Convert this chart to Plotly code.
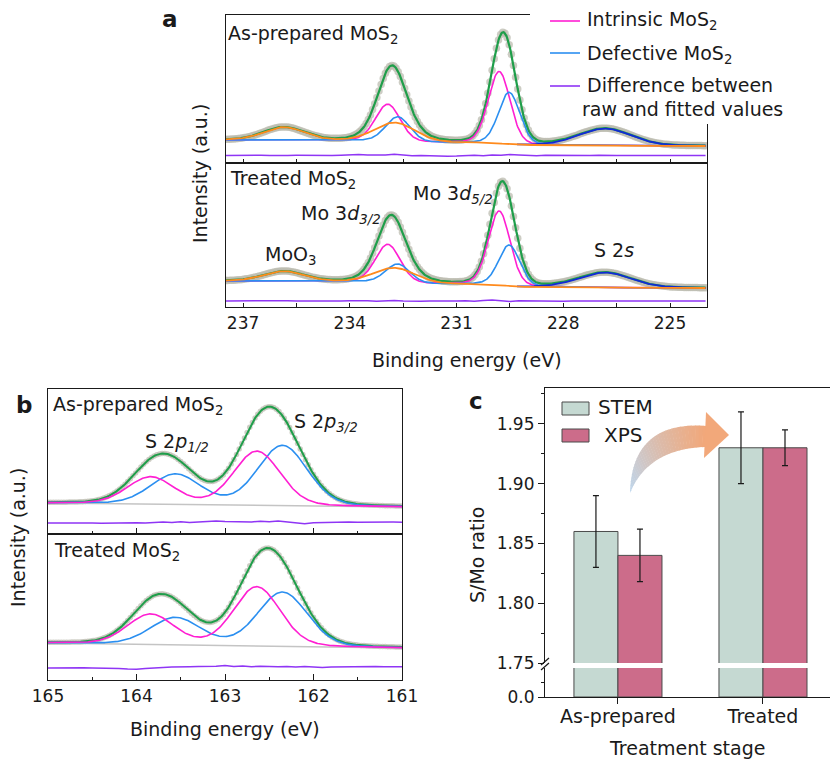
import numpy as np
import plotly.graph_objects as go

W, H = 830, 759
FONT = "DejaVu Sans"
INK = "#1a1a1a"

# colours
C_DOTS = "rgba(188,188,176,0.75)"
C_FIT = "#1f9e4a"
C_INTR = "#ff1fd2"
C_DEF = "#2b8ff0"
C_S2S = "#1229d6"
C_MOO3 = "#ff8a1c"
C_DIFF = "#8f35f5"
C_BG = "#c4c4c4"
C_STEM = "#c5d9d2"
C_XPS = "#cc6c8a"

# ---------------- Mo 3d region (panel a) ----------------
MO3D_RANGE = [237.5, 224.0]            # binding energy, eV (high -> low)
INTR_CENTER = [229.80, 232.93]         # intrinsic MoS2 3d5/2, 3d3/2
DEF_CENTER = [229.52, 232.65]          # defective MoS2 3d5/2, 3d3/2
MOO3_CENTER = [232.72, 235.85]         # MoO3 3d5/2, 3d3/2
S2S_CENTER = [226.82]
S2S_WINDOW = [229.3, 224.0]            # energy span over which S 2s is traced
INTR_FWHM = [0.72, 0.82]
DEF_FWHM = [0.70, 0.80]
MOO3_FWHM = [1.35, 1.35]
S2S_FWHM = [1.75]

AP_INTR_H = [72, 37]
AP_DEF_H = [52, 25]
AP_MOO3_H = [19, 13]
AP_S2S_H = [17]
AP_MO3D_BG = [23, 17]                  # background at high / low BE end
AP_MO3D_DIFF_LEVEL = 7.5
AP_MO3D_DIFF = [0.0, 0.2, -0.1, 0.1, 0.3, 0.0, -0.2, 0.1, 0.2, 0.0, -0.1,
                0.1, 0.0, 0.3, 0.7, 0.9, 0.5, 0.2, 0.6, 1.2, 0.4, -0.2,
                0.1, -0.3, -0.5, -0.8, -0.6, -0.1, 0.2, -0.3, 0.4, 0.2, 0.9,
                0.6, 0.1, -0.2, 0.2, 0.0, -0.1, 0.3, 0.1, -0.1, 0.2, 0.4,
                0.1, -0.1, 0.2, 0.0, 0.1, -0.1, 0.2, 0.0, -0.1, 0.1, 0.0]

TR_INTR_H = [74, 38]
TR_DEF_H = [41, 19]
TR_MOO3_H = [15, 10]
TR_S2S_H = [15]
TR_MO3D_BG = [26, 19]
TR_MO3D_DIFF_LEVEL = 6.0
TR_MO3D_DIFF = [0.0, 0.1, -0.1, 0.2, 0.0, -0.2, 0.1, 0.3, 0.0, -0.1, 0.2,
                0.1, -0.2, 0.0, 0.3, 0.5, 0.2, -0.3, 0.4, 0.6, 0.1, -0.4,
                -0.2, 0.1, -0.1, -0.3, 0.0, 0.2, -0.2, 0.5, 0.9, 0.3, -0.4,
                0.2, 0.0, -0.1, 0.2, 0.1, -0.2, 0.0, 0.3, 0.1, -0.1, 0.2,
                0.0, 0.1, -0.1, 0.0, 0.2, 0.1, -0.1, 0.0, 0.1, 0.0, 0.1]

# ---------------- S 2p region (panel b) ----------------
S2P_RANGE = [165.0, 161.0]
S2P_INTR_CENTER = [162.64, 163.84]     # 2p3/2, 2p1/2
S2P_DEF_CENTER = [162.35, 163.56]
S2P_INTR_FWHM = [0.62, 0.62]
S2P_DEF_FWHM = [0.66, 0.66]

AP_S2P_INTR_H = [54, 27]
AP_S2P_DEF_H = [60, 30]
AP_S2P_BG = [31, 27]
AP_S2P_DIFF_LEVEL = 11.0
AP_S2P_DIFF = [0.0, 0.1, -0.1, 0.0, 0.2, 0.1, -0.2, 0.0, -0.3, -0.1, 0.2,
               0.0, 0.6, 0.9, 0.4, 1.2, 0.6, 1.0, 1.6, 1.9, 1.4, 1.2,
               1.7, 1.0, 1.8, 1.3, 2.1, 0.9, 0.4, -0.8, 0.3, 0.6, 0.2,
               0.8, 0.9, 0.7, 0.9, 0.8, 0.7, 0.9, 0.8]

TR_S2P_INTR_H = [59, 30]
TR_S2P_DEF_H = [54, 27]
TR_S2P_BG = [37, 32]
TR_S2P_DIFF_LEVEL = 12.0
TR_S2P_DIFF = [0.0, 0.2, 0.1, 0.3, 0.2, 0.0, 0.1, -0.2, -0.4, -0.9, -1.2,
               -0.5, 0.3, 0.6, 0.9, 0.8, 1.2, 1.4, 1.3, 1.8, 2.6, 1.6,
               1.9, 1.3, 1.7, 1.4, 1.2, 1.6, 1.0, 1.5, 0.6, 0.4, 0.9,
               1.1, 1.0, 1.3, 1.2, 1.4, 1.3, 1.2, 1.3]

# ---------------- S/Mo ratio (panel c) ----------------
STAGES = ["As-prepared", "Treated"]
STEM_RATIO = [1.86, 1.93]
STEM_ERR = [0.03, 0.03]
XPS_RATIO = [1.84, 1.93]
XPS_ERR = [0.022, 0.015]


# ---------------- helpers ----------------
def fx(x):
    return x / W


def fy(y):
    return 1 - y / H


def band(top, bottom):
    return [1 - bottom / H, 1 - top / H]


def pseudo_voigt(E, c, h, w, eta=0.15):
    u = (E - c) / w
    g = np.exp(-4 * np.log(2) * u ** 2)
    lor = 1.0 / (1.0 + 4 * u ** 2)
    return h * ((1 - eta) * g + eta * lor)


def peaks(E, centers, heights, widths):
    out = np.zeros_like(E)
    for c, h, w in zip(centers, heights, widths):
        out += pseudo_voigt(E, c, h, w)
    return out


def shirley(signal, bg):
    # E runs from high to low binding energy; step grows toward high BE
    cum = np.cumsum(signal[::-1])[::-1]
    return bg[1] + (bg[0] - bg[1]) * cum / cum[0]


def line(x, y, color, xa, ya, width=1.6):
    return go.Scatter(x=x, y=y, mode="lines", line=dict(color=color, width=width),
                      xaxis=xa, yaxis=ya, hoverinfo="skip")


def mo3d_traces(xa, ya, intr_h, def_h, moo3_h, s2s_h, bg, diff, diff_level):
    E = np.linspace(MO3D_RANGE[0], MO3D_RANGE[1], 676)
    intr = peaks(E, INTR_CENTER, intr_h, INTR_FWHM)
    defe = peaks(E, DEF_CENTER, def_h, DEF_FWHM)
    moo3 = peaks(E, MOO3_CENTER, moo3_h, MOO3_FWHM)
    s2s = peaks(E, S2S_CENTER, s2s_h, S2S_FWHM)
    signal = intr + defe + moo3 + s2s
    base = shirley(signal, bg)
    fit = base + signal
    win = (E <= S2S_WINDOW[0]) & (E >= S2S_WINDOW[1])
    Ed = np.linspace(MO3D_RANGE[0], MO3D_RANGE[1], len(diff))
    return [
        go.Scatter(x=E[::3], y=fit[::3], mode="markers",
                   marker=dict(size=7.5, color=C_DOTS), xaxis=xa, yaxis=ya),
        line(E, fit, C_FIT, xa, ya, 2.2),
        line(E, base + intr, C_INTR, xa, ya),
        line(E, base + defe, C_DEF, xa, ya),
        line(E[win], (base + s2s)[win], C_S2S, xa, ya, 1.8),
        line(E, base + moo3, C_MOO3, xa, ya, 1.8),
        line(Ed, diff_level + np.array(diff), C_DIFF, xa, ya, 1.5),
    ]


def s2p_traces(xa, ya, intr_h, def_h, bg, diff, diff_level):
    E = np.linspace(S2P_RANGE[0], S2P_RANGE[1], 401)
    intr = peaks(E, S2P_INTR_CENTER, intr_h, S2P_INTR_FWHM)
    defe = peaks(E, S2P_DEF_CENTER, def_h, S2P_DEF_FWHM)
    base = bg[1] + (bg[0] - bg[1]) * (E - S2P_RANGE[1]) / (S2P_RANGE[0] - S2P_RANGE[1])
    fit = base + intr + defe
    Ed = np.linspace(S2P_RANGE[0], S2P_RANGE[1], len(diff))
    return [
        go.Scatter(x=E[::3], y=fit[::3], mode="markers",
                   marker=dict(size=5.5, color=C_DOTS), xaxis=xa, yaxis=ya),
        line(S2P_RANGE, bg, C_BG, xa, ya, 1.5),
        line(E, fit, C_FIT, xa, ya, 2.0),
        line(E, base + defe, C_DEF, xa, ya),
        line(E, base + intr, C_INTR, xa, ya),
        line(Ed, diff_level + np.array(diff), C_DIFF, xa, ya, 1.5),
    ]


# ---------------- layout frames ----------------
A_X, A1_Y, A2_Y = (226, 707), (15, 163), (163, 307)
B_X, B1_Y, B2_Y = (48, 402), (389, 534), (534, 680)
C_X, C_UP_Y, C_LO_Y = (545, 830), (388, 663), (668, 697)


def spec_xaxis(xdom, rng, tick0, dtick, minor, labels, anchor, ticklen, minorlen):
    return dict(domain=[fx(xdom[0]), fx(xdom[1])], range=rng, anchor=anchor,
                automargin=False,
                showline=True, linecolor=INK, linewidth=1.2, mirror=True,
                ticks="inside", ticklen=ticklen, tickwidth=1.2, tickcolor=INK,
                tick0=tick0, dtick=dtick,
                minor=dict(tick0=tick0, dtick=minor, ticks="inside", ticklen=minorlen,
                           tickwidth=1.2, tickcolor=INK),
                showticklabels=labels, showgrid=False, zeroline=False,
                tickfont=dict(size=17, color=INK))


def spec_yaxis(ydom, anchor):
    return dict(domain=band(*ydom), range=[0, ydom[1] - ydom[0]], anchor=anchor,
                automargin=False,
                showline=True, linecolor=INK, linewidth=1.2, mirror=True,
                ticks="", showticklabels=False, showgrid=False, zeroline=False)


fig = go.Figure()
for t in mo3d_traces("x", "y", AP_INTR_H, AP_DEF_H, AP_MOO3_H, AP_S2S_H,
                     AP_MO3D_BG, AP_MO3D_DIFF, AP_MO3D_DIFF_LEVEL):
    fig.add_trace(t)
for t in mo3d_traces("x2", "y2", TR_INTR_H, TR_DEF_H, TR_MOO3_H, TR_S2S_H,
                     TR_MO3D_BG, TR_MO3D_DIFF, TR_MO3D_DIFF_LEVEL):
    fig.add_trace(t)
for t in s2p_traces("x3", "y3", AP_S2P_INTR_H, AP_S2P_DEF_H, AP_S2P_BG,
                    AP_S2P_DIFF, AP_S2P_DIFF_LEVEL):
    fig.add_trace(t)
for t in s2p_traces("x4", "y4", TR_S2P_INTR_H, TR_S2P_DEF_H, TR_S2P_BG,
                    TR_S2P_DIFF, TR_S2P_DIFF_LEVEL):
    fig.add_trace(t)

# bars: lower (0 ...) and upper (1.75 ...) segments of the broken axis
bar_line = dict(color="#4a4a4a", width=1)
for xa, ya, with_err in (("x5", "y5", False), ("x6", "y6", True)):
    fig.add_trace(go.Bar(x=STAGES, y=STEM_RATIO, name="STEM", xaxis=xa, yaxis=ya,
                         marker=dict(color=C_STEM, line=bar_line),
                         error_y=dict(type="data", array=STEM_ERR, color=INK,
                                      thickness=1.2, width=3, visible=with_err)))
    fig.add_trace(go.Bar(x=STAGES, y=XPS_RATIO, name="XPS", xaxis=xa, yaxis=ya,
                         marker=dict(color=C_XPS, line=bar_line),
                         error_y=dict(type="data", array=XPS_ERR, color=INK,
                                      thickness=1.2, width=3, visible=with_err)))

layout = dict(
    width=W, height=H, margin=dict(l=0, r=0, t=0, b=0, pad=0, autoexpand=False),
    paper_bgcolor="white", plot_bgcolor="rgba(0,0,0,0)",
    showlegend=False, font=dict(family=FONT, size=17, color=INK),
    barmode="group", bargap=0.393, bargroupgap=0,
    xaxis=spec_xaxis(A_X, [237.48, 223.96], 225, 3, 1.5, False, "y", 4, 4),
    yaxis=spec_yaxis(A1_Y, "x"),
    xaxis2=spec_xaxis(A_X, [237.48, 223.96], 225, 3, 1.5, True, "y2", 4, 4),
    yaxis2=spec_yaxis(A2_Y, "x2"),
    xaxis3=spec_xaxis(B_X, [165, 161], 161, 1, 0.5, False, "y3", 6, 3),
    yaxis3=spec_yaxis(B1_Y, "x3"),
    xaxis4=spec_xaxis(B_X, [165, 161], 161, 1, 0.5, True, "y4", 6, 3),
    yaxis4=spec_yaxis(B2_Y, "x4"),
    xaxis5=dict(domain=[fx(C_X[0]), fx(C_X[1])], anchor="y5", type="category",
                automargin=False, ticklabelstandoff=-4,
                range=[-0.503, 1.462], showline=True, linecolor=INK, linewidth=1.2,
                ticks="outside", ticklen=6, tickwidth=1.2, tickcolor=INK,
                showgrid=False, zeroline=False, tickfont=dict(size=19, color=INK)),
    yaxis5=dict(domain=band(*C_LO_Y), anchor="x5", range=[0, 0.2],
                automargin=False,
                tickvals=[0], ticktext=["0.0"], ticks="outside", ticklen=6,
                tickwidth=1.2, tickcolor=INK,
                minor=dict(tickvals=[0.1], ticks="outside", ticklen=3,
                           tickwidth=1.2, tickcolor=INK),
                showline=True, linecolor=INK, linewidth=1.2, showgrid=False,
                zeroline=False, tickfont=dict(size=17, color=INK)),
    xaxis6=dict(domain=[fx(C_X[0]), fx(C_X[1])], anchor="y6", matches="x5",
                automargin=False,
                type="category", side="top", showline=True, linecolor=INK,
                linewidth=1.2, ticks="", showticklabels=False, showgrid=False,
                zeroline=False),
    yaxis6=dict(domain=band(*C_UP_Y), anchor="x6", range=[1.75, 1.98],
                automargin=False,
                tick0=1.75, dtick=0.05, tickformat=".2f", ticks="outside",
                ticklen=6, tickwidth=1.2, tickcolor=INK,
                minor=dict(dtick=0.025, ticks="outside", ticklen=3,
                           tickwidth=1.2, tickcolor=INK),
                showline=True, linecolor=INK, linewidth=1.2, showgrid=False,
                zeroline=False, tickfont=dict(size=17, color=INK)),
)
fig.update_layout(**layout)

# ---------------- text ----------------
ann = []


def label(text, x, y, size=19, xanchor="left", yanchor="middle", angle=0, bold=False):
    if bold:
        text = "<b>" + text + "</b>"
    ann.append(dict(text=text, x=fx(x), y=fy(y), xref="paper", yref="paper",
                    xanchor=xanchor, yanchor=yanchor, textangle=angle,
                    showarrow=False, font=dict(family=FONT, size=size, color=INK)))


MOS2 = "MoS<sub>2</sub>"
# panel a
label("a", 170, 19, size=23, xanchor="center", bold=True)
label("As-prepared " + MOS2, 226, 34)
label("Treated " + MOS2, 228, 179)
label("Mo 3<i>d</i><sub><i>3/2</i></sub>", 341, 214, xanchor="center")
label("Mo 3<i>d</i><sub><i>5/2</i></sub>", 453, 194, xanchor="center")
label("MoO<sub>3</sub>", 290, 255, xanchor="center")
label("S 2<i>s</i>", 614, 250, xanchor="center")
label("Binding energy (eV)", 467, 360, xanchor="center")
label("Intensity (a.u.)", 200, 174, xanchor="center", angle=-90)
label("Intrinsic " + MOS2, 585, 21)
label("Defective " + MOS2, 585, 54)
label("Difference between", 585, 85)
label("raw and fitted values", 580, 109)
# panel b
label("b", 24, 405, size=23, xanchor="center", bold=True)
label("As-prepared " + MOS2, 51, 405)
label("S 2<i>p</i><sub><i>1/2</i></sub>", 143, 442)
label("S 2<i>p</i><sub><i>3/2</i></sub>", 292, 422)
label("Treated " + MOS2, 52, 551)
label("Binding energy (eV)", 225, 729, xanchor="center")
label("Intensity (a.u.)", 18, 538, xanchor="center", angle=-90)
# panel c
label("c", 476, 401, size=23, xanchor="center", bold=True)
label("S/Mo ratio", 477, 555, xanchor="center", angle=-90)
label("STEM", 596, 407, size=20)
label("XPS", 602, 435, size=20)
label("Treatment stage", 687, 748, xanchor="center")
fig.update_layout(annotations=ann)

# ---------------- decorations ----------------
shapes = []


def pline(x0, y0, x1, y1, color, width=1.6):
    shapes.append(dict(type="line", xref="paper", yref="paper",
                       x0=fx(x0), y0=fy(y0), x1=fx(x1), y1=fy(y1),
                       line=dict(color=color, width=width), layer="above"))


def prect(x0, y0, x1, y1, fill, outline=None):
    shapes.append(dict(type="rect", xref="paper", yref="paper",
                       x0=fx(x0), y0=fy(y0), x1=fx(x1), y1=fy(y1),
                       fillcolor=fill, layer="above",
                       line=dict(color=outline or fill, width=1 if outline else 0)))


# legend area of panel a sits over the frame corner
prect(530, 8, 712, 124, "white")
pline(550, 21, 580, 21, C_INTR)
pline(550, 53, 580, 53, C_DEF)
pline(550, 86, 580, 86, C_DIFF)

# panel c legend swatches
prect(562, 402, 589, 415, C_STEM, "#4a4a4a")
prect(562, 429, 589, 442, C_XPS, "#4a4a4a")

# axis break marks
pline(541, 665, 549, 658, INK, 1.2)
pline(541, 670, 549, 663, INK, 1.2)


# curved arrow with a blue -> orange colour ramp
def bez(p0, p1, p2, t):
    return ((1 - t) ** 2 * p0[0] + 2 * (1 - t) * t * p1[0] + t ** 2 * p2[0],
            (1 - t) ** 2 * p0[1] + 2 * (1 - t) * t * p1[1] + t ** 2 * p2[1])


UP = [(630, 493), (632, 420), (707, 426)]
LO = [(630, 493), (648, 449), (705, 447)]
C0, C1 = np.array([190, 215, 238]), np.array([242, 168, 122])
N = 36
for i in range(N):
    t0, t1 = i / N, (i + 1.15) / N if i < N - 1 else 1.0
    a0, a1 = bez(*UP, t0), bez(*UP, min(t1, 1.0))
    b0, b1 = bez(*LO, t0), bez(*LO, min(t1, 1.0))
    col = C0 + (C1 - C0) * (i + 0.5) / N
    rgb = "rgb(%d,%d,%d)" % tuple(col.astype(int))
    path = "M {},{} L {},{} L {},{} L {},{} Z".format(
        fx(a0[0]), fy(a0[1]), fx(a1[0]), fy(a1[1]),
        fx(b1[0]), fy(b1[1]), fx(b0[0]), fy(b0[1]))
    shapes.append(dict(type="path", xref="paper", yref="paper", path=path,
                       fillcolor=rgb, line=dict(width=0), layer="above"))
head = "M {},{} L {},{} L {},{} Z".format(fx(706), fy(412), fx(729), fy(435),
                                          fx(704), fy(458))
shapes.append(dict(type="path", xref="paper", yref="paper", path=head,
                   fillcolor="rgb(242,168,122)", line=dict(width=0), layer="above"))

fig.update_layout(shapes=shapes)
fig.write_html("out.html")
